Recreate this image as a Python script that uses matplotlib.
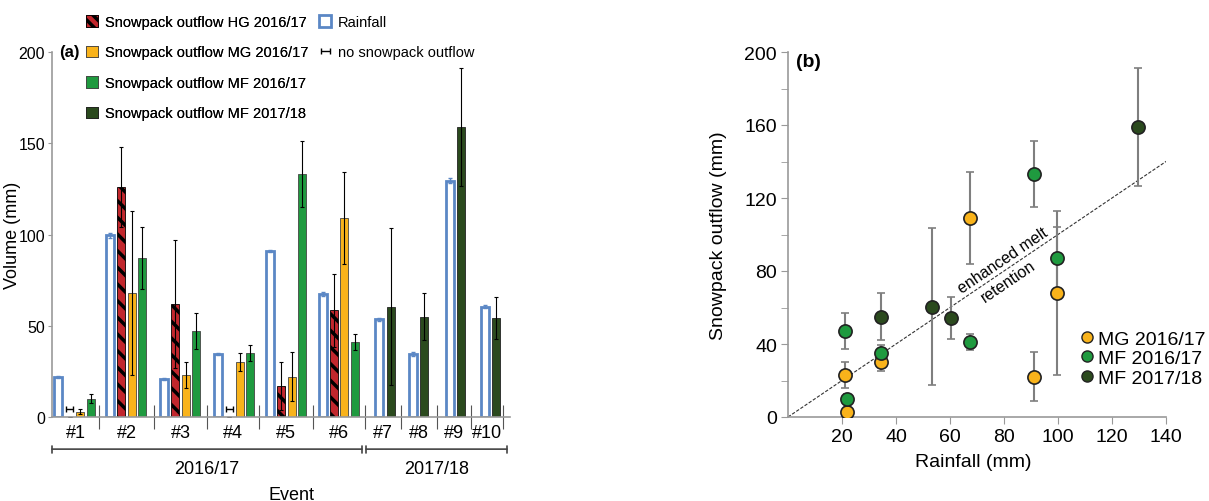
import numpy as np
import matplotlib
matplotlib.use('Agg')
import matplotlib.pyplot as plt
from matplotlib.patches import Patch
from matplotlib.lines import Line2D
from matplotlib.legend_handler import HandlerErrorbar
import matplotlib.transforms as mtransforms

plt.rcParams['font.family'] = ['Liberation Sans', 'DejaVu Sans']
plt.rcParams['hatch.linewidth'] = 2.5

# ---- data (mm) ----
events = ['#1', '#2', '#3', '#4', '#5', '#6', '#7', '#8', '#9', '#10']
rain = [22, 99.5, 21, 34.5, 91, 67.5, 53.5, 34.5, 129.5, 60.5]
rain_err = [0.5, 1.5, 0.5, 0.5, 0.5, 1, 1, 1, 1.5, 1]
# 2016/17 events #1-#6 (nan = no snowpack outflow)
hg = [np.nan, 126, 62, np.nan, 17, 58.5]
hg_err = [0, 22, 35, 0, 13, 20]
mg = [3, 68, 23, 30, 22, 109]
mg_err = [1.5, 45, 7, 5, 13.5, 25]
mf16 = [10, 87, 47, 35, 133, 41]
mf16_err = [2.5, 17, 10, 4.5, 18, 4.5]
# 2017/18 events #7-#10
mf17 = [60.5, 55, 159, 54]
mf17_err = [43, 13, 32.5, 11.5]

seasons = ['2016/17', '2017/18']

# colours
c_rain = '#5b87c5'
c_hg = '#c1272d'
c_mg = '#f9b31b'
c_mf16 = '#1f9a3f'
c_mf17 = '#2b4a1e'
c_axis = '#999999'

# ---- layout of panel (a), in pixel-like units ----
sep = [0, 47.3, 102, 155.3, 207.3, 260.7, 313.3, 349.3, 385.3, 418.7, 451.3]
rain_x = np.array([6.3, 57.8, 111.7, 166, 217.8, 270.5, 327, 360.8, 397.5, 432.5])
bw = 8
off16 = [11.4, 21.9, 32.3]
off17 = 11.6

fig = plt.figure(figsize=(12.09, 5.02), dpi=100)
W, H = 1209, 502
ax = fig.add_axes([52 / W, (H - 418) / H, 458 / W, 365 / H])
ax2 = fig.add_axes([788 / W, (H - 418) / H, 378 / W, 365 / H])

ekw = dict(ecolor='black', elinewidth=0.8, capsize=1.5, capthick=0.8)

x16 = rain_x[:6]
x17 = rain_x[6:]
ax.bar(rain_x, rain, bw, yerr=rain_err, facecolor='white', edgecolor=c_rain,
       linewidth=2, error_kw=dict(ecolor=c_rain, elinewidth=1, capsize=1.5), zorder=2)
hg_arr = np.array(hg, dtype=float)
ax.bar(x16 + off16[0], np.nan_to_num(hg_arr), bw, yerr=hg_err, facecolor=c_hg, edgecolor='black',
       hatch='\\\\', linewidth=0.6, error_kw=ekw, zorder=2)
ax.bar(x16 + off16[1], mg, bw, yerr=mg_err, facecolor=c_mg, edgecolor='#444444',
       linewidth=0.6, error_kw=ekw, zorder=2)
ax.bar(x16 + off16[2], mf16, bw, yerr=mf16_err, facecolor=c_mf16, edgecolor='#444444',
       linewidth=0.6, error_kw=ekw, zorder=2)
ax.bar(x17 + off17, mf17, bw, yerr=mf17_err, facecolor=c_mf17, edgecolor='#222222',
       linewidth=0.6, error_kw=ekw, zorder=2)

# "no snowpack outflow" markers
none_x = (x16 + off16[0])[np.isnan(hg_arr)]
h_none = ax.errorbar(none_x, np.full(len(none_x), 4.6), xerr=3.3, fmt='none',
                     ecolor='black', elinewidth=1, capsize=2.2, capthick=1)

ax.set_xlim(0, 458)
ax.set_ylim(0, 200)
ax.set_yticks([0, 50, 100, 150, 200])
ax.set_xticks(sep[1:])
ax.set_xticklabels([])
ax.set_xticks([(sep[i] + sep[i + 1]) / 2 for i in range(10)], minor=True)
ax.set_xticklabels(events, minor=True, fontsize=13)
ax.tick_params(axis='x', which='major', direction='inout', length=17, width=0.8, color='#555555')
ax.tick_params(axis='x', which='minor', length=0, pad=5)
ax.tick_params(axis='y', direction='out', length=3, color=c_axis, labelsize=11.5, pad=2)
for s in ['top', 'right']:
    ax.spines[s].set_visible(False)
for s in ['left', 'bottom']:
    ax.spines[s].set_color(c_axis)
    ax.spines[s].set_linewidth(1.2)
ax.set_ylabel('Volume (mm)', fontsize=13)
ax.yaxis.set_label_coords(-0.068, 0.5)

# season brackets
trans = mtransforms.blended_transform_factory(ax.transData, ax.transAxes)
brackets = [(0, 310), (314, 455)]
for (x0, x1), season in zip(brackets, seasons):
    ax.annotate('', xy=(x0, -0.088), xytext=(x1, -0.088), xycoords=trans, textcoords=trans,
                arrowprops=dict(arrowstyle='|-|, widthA=0.25, widthB=0.25', color='#444444',
                                lw=1.2, shrinkA=0, shrinkB=0), annotation_clip=False)
    ax.text((x0 + x1) / 2, -0.142, season, transform=trans, ha='center', va='center',
            fontsize=13)
ax.text(239, -0.211, 'Event', transform=trans, ha='center', va='center', fontsize=13)
ax.text(0.039, 1.0, '(a)', transform=ax.transAxes, ha='center', va='center',
        fontsize=12, fontweight='bold')

# legends of panel (a)
hdl1 = [Patch(facecolor=c_hg, edgecolor='black', hatch='\\\\\\', linewidth=0.6),
        Patch(facecolor=c_mg, edgecolor='#444444', linewidth=0.6),
        Patch(facecolor=c_mf16, edgecolor='#444444', linewidth=0.6),
        Patch(facecolor=c_mf17, edgecolor='#222222', linewidth=0.6)]
lab1 = ['Snowpack outflow HG 2016/17', 'Snowpack outflow MG 2016/17',
        'Snowpack outflow MF 2016/17', 'Snowpack outflow MF 2017/18']
lkw = dict(loc='upper left', frameon=False, handlelength=0.85, handleheight=0.85,
           handletextpad=0.45, labelspacing=1.13, borderpad=0, borderaxespad=0,
           fontsize=10.5)
leg1 = fig.legend(hdl1, lab1, bbox_to_anchor=(86 / W, 1 - 16 / H), **lkw)
hdl2 = [Patch(facecolor='white', edgecolor=c_rain, linewidth=2), h_none]
lab2 = ['Rainfall', 'no snowpack outflow']
leg2 = fig.legend(hdl2, lab2, bbox_to_anchor=(319 / W, 1 - 16 / H),
                  handler_map={type(h_none): HandlerErrorbar(xerr_size=0.3)}, **lkw)
fig.add_artist(leg1)

# ---- panel (b) ----
skw = dict(fmt='o', ms=9.5, mec='#222222', mew=1.2, ecolor='#7f7f7f',
           elinewidth=1.5, capsize=3, capthick=1.5)
rain16 = np.array(rain[:6])
rain17 = np.array(rain[6:])
line_end = 142
ax2.plot([0, line_end], [0, line_end], ls=(0, (3, 1.5)), color='#333333', lw=0.8, zorder=1)
ax2.errorbar(rain16, mg, yerr=mg_err, mfc=c_mg, label='MG 2016/17', zorder=3, **skw)
ax2.errorbar(rain16, mf16, yerr=mf16_err, mfc=c_mf16, label='MF 2016/17', zorder=3, **skw)
ax2.errorbar(rain17, mf17, yerr=mf17_err, mfc=c_mf17, label='MF 2017/18', zorder=3, **skw)

ax2.text(79.5, 86, 'enhanced melt', rotation=45, transform_rotates_text=True,
         rotation_mode='anchor', ha='center', va='center', fontsize=11.5)
ax2.text(81.5, 74.5, 'retention', rotation=45, transform_rotates_text=True,
         rotation_mode='anchor', ha='center', va='center', fontsize=11.5)

ax2.set_xlim(0, 140)
ax2.set_ylim(0, 200)
ax2.set_xticks([20, 40, 60, 80, 100, 120, 140])
ax2.set_yticks([0, 40, 80, 120, 160, 200])
ax2.set_yticks([20, 60, 100, 140, 180], minor=True)
ax2.tick_params(which='both', direction='out', length=5, color=c_axis, labelsize=14, pad=3)
for s in ['top', 'right']:
    ax2.spines[s].set_visible(False)
for s in ['left', 'bottom']:
    ax2.spines[s].set_color(c_axis)
    ax2.spines[s].set_linewidth(1.2)
ax2.set_xlabel('Rainfall (mm)', fontsize=14)
ax2.xaxis.set_label_coords(0.49, -0.1)
ax2.set_ylabel('Snowpack outflow (mm)', fontsize=14)
ax2.yaxis.set_label_coords(-0.162, 0.5)
ax2.text(0.02, 0.975, '(b)', transform=ax2.transAxes, ha='left', va='center',
         fontsize=14, fontweight='bold')

h, l = ax2.get_legend_handles_labels()
h = [Line2D([], [], ls='none', marker='o', ms=8, mfc=c, mec='#222222', mew=1)
     for c in [c_mg, c_mf16, c_mf17]]
ax2.legend(h, l, loc='upper left', bbox_to_anchor=(1081 / W, 1 - 331 / H),
           bbox_transform=fig.transFigure, frameon=False, handlelength=0.6,
           handletextpad=0.3, labelspacing=0.1, borderpad=0, borderaxespad=0, fontsize=14)

fig.savefig('out.png', dpi=100)
